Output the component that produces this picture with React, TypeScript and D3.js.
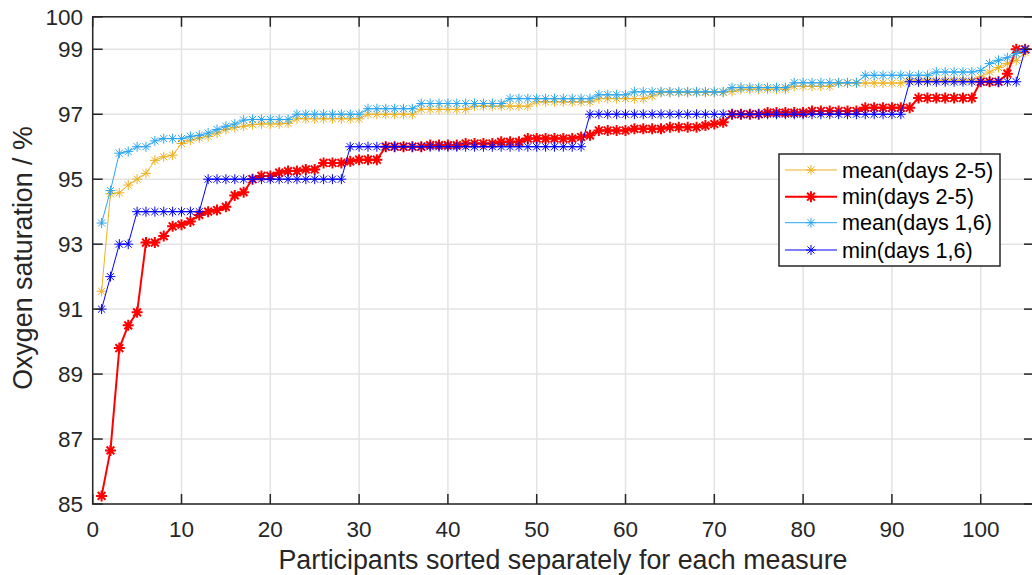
import React from 'react';
import * as d3 from 'd3';

// Sorted ranks 1..105 (x positions are the participant rank)
const meanDays25: number[] = [
  91.55, 94.55, 94.58, 94.82, 95.0, 95.18, 95.58, 95.69, 95.74, 96.1,
  96.2, 96.27, 96.32, 96.42, 96.53, 96.59, 96.63, 96.68, 96.7, 96.7,
  96.7, 96.72, 96.86, 96.86, 96.86, 96.86, 96.86, 96.86, 96.86, 96.86,
  97.0, 97.0, 97.0, 97.0, 97.0, 97.0, 97.15, 97.15, 97.15, 97.15,
  97.15, 97.15, 97.25, 97.25, 97.25, 97.25, 97.25, 97.25, 97.25, 97.38,
  97.38, 97.38, 97.38, 97.38, 97.38, 97.38, 97.48, 97.48, 97.48, 97.48,
  97.48, 97.48, 97.56, 97.67, 97.67, 97.67, 97.67, 97.67, 97.67, 97.67,
  97.67, 97.7, 97.77, 97.77, 97.77, 97.77, 97.77, 97.77, 97.86, 97.86,
  97.86, 97.86, 97.86, 97.96, 97.96, 97.96, 97.96, 97.96, 97.96, 97.96,
  97.96, 98.05, 98.05, 98.05, 98.05, 98.05, 98.05, 98.05, 98.05, 98.15,
  98.3, 98.44, 98.56, 98.66, 98.9,
];

const minDays25: number[] = [
  85.25, 86.65, 89.8, 90.5, 90.9, 93.05, 93.05, 93.25, 93.55, 93.6,
  93.7, 93.9, 94.0, 94.05, 94.15, 94.5, 94.6, 95.0, 95.1, 95.1,
  95.2, 95.25, 95.25, 95.3, 95.3, 95.5, 95.5, 95.5, 95.55, 95.6,
  95.6, 95.6, 96.0, 96.0, 96.0, 96.0, 96.0, 96.05, 96.05, 96.05,
  96.05, 96.1, 96.1, 96.1, 96.1, 96.15, 96.15, 96.15, 96.25, 96.25,
  96.25, 96.25, 96.25, 96.25, 96.3, 96.35, 96.5, 96.5, 96.5, 96.5,
  96.55, 96.55, 96.55, 96.55, 96.6, 96.6, 96.6, 96.6, 96.65, 96.7,
  96.75, 97.0, 97.0, 97.0, 97.0, 97.05, 97.05, 97.05, 97.05, 97.05,
  97.1, 97.1, 97.1, 97.1, 97.1, 97.1, 97.2, 97.2, 97.2, 97.2,
  97.2, 97.2, 97.5, 97.5, 97.5, 97.5, 97.5, 97.5, 97.5, 98.0,
  98.0, 98.0, 98.25, 99.0, 99.0,
];

const meanDays16: number[] = [
  93.65, 94.65, 95.8, 95.85, 96.0, 96.0, 96.18, 96.25, 96.25, 96.25,
  96.32, 96.35, 96.42, 96.53, 96.63, 96.7, 96.82, 96.84, 96.84, 96.84,
  96.84, 96.84, 97.0, 97.0, 97.0, 97.0, 97.0, 97.0, 97.0, 97.0,
  97.17, 97.17, 97.17, 97.17, 97.17, 97.17, 97.33, 97.33, 97.33, 97.33,
  97.33, 97.33, 97.33, 97.33, 97.33, 97.33, 97.48, 97.48, 97.48, 97.48,
  97.48, 97.48, 97.48, 97.48, 97.48, 97.48, 97.6, 97.6, 97.6, 97.6,
  97.69, 97.69, 97.69, 97.69, 97.69, 97.69, 97.69, 97.69, 97.69, 97.69,
  97.69, 97.82, 97.82, 97.82, 97.82, 97.82, 97.82, 97.82, 97.97, 97.97,
  97.97, 97.97, 97.97, 97.97, 97.97, 97.97, 98.2, 98.2, 98.2, 98.2,
  98.2, 98.2, 98.2, 98.2, 98.3, 98.3, 98.3, 98.3, 98.3, 98.35,
  98.56, 98.66, 98.74, 98.87, 99.0,
];

const minDays16: number[] = [
  91, 92, 93, 93, 94, 94, 94, 94, 94, 94,
  94, 94, 95, 95, 95, 95, 95, 95, 95, 95,
  95, 95, 95, 95, 95, 95, 95, 95, 96, 96,
  96, 96, 96, 96, 96, 96, 96, 96, 96, 96,
  96, 96, 96, 96, 96, 96, 96, 96, 96, 96,
  96, 96, 96, 96, 96, 97, 97, 97, 97, 97,
  97, 97, 97, 97, 97, 97, 97, 97, 97, 97,
  97, 97, 97, 97, 97, 97, 97, 97, 97, 97,
  97, 97, 97, 97, 97, 97, 97, 97, 97, 97,
  97, 98, 98, 98, 98, 98, 98, 98, 98, 98,
  98, 98, 98, 98, 99,
];

const seriesNames = ['mean(days 2-5)', 'min(days 2-5)', 'mean(days 1,6)', 'min(days 1,6)'];
const seriesColors = ['#EDB120', '#FF0000', '#2AA6F2', '#0000FF'];
const seriesWidths = [1, 2, 1, 1];
const markerSizes = [5, 5.5, 5, 5];

const xTicks = [0, 10, 20, 30, 40, 50, 60, 70, 80, 90, 100];
const yTicks = [85, 87, 89, 91, 93, 95, 97, 99, 100];

const xLabel = 'Participants sorted separately for each measure';
const yLabel = 'Oxygen saturation / %';

const W = 1032;
const H = 575;
const left = 92.7;
const top = 16.8;
const bottom = 504;
const right = 1034;

const FONT = 'Liberation Sans, Arial, Helvetica, sans-serif';

function asterisk(r: number) {
  const d = r * 0.7071;
  return `M${-r},0H${r}M0,${-r}V${r}M${-d},${-d}L${d},${d}M${-d},${d}L${d},${-d}`;
}

export default function App() {
  const x = d3.scaleLinear().domain([0, 106]).range([left, right]);
  const y = d3.scaleLinear().domain([85, 100]).range([bottom, top]);
  const allSeries = [meanDays25, minDays25, meanDays16, minDays16];
  const line = d3
    .line<number>()
    .x((_, i) => x(i + 1))
    .y((v) => y(v));

  const gridColor = '#e3e3e3';
  const axisColor = '#262626';
  const tickLen = 10;

  const legendX = 779;
  const legendY = 154;
  const legendW = 221;
  const legendH = 112;
  const rowY = [170, 196.7, 222.7, 250];

  return (
    <div style={{ position: 'absolute', left: 0, top: 0 }}>
      <svg width={W} height={H} style={{ display: 'block', background: '#fff' }}>
        <defs>
          <clipPath id="plotclip">
            <rect x={left} y={top - 8} width={right - left + 8} height={bottom - top + 16} />
          </clipPath>
        </defs>
        {xTicks.map((t) => (
          <line key={'gx' + t} x1={x(t)} x2={x(t)} y1={top} y2={bottom} stroke={gridColor} strokeWidth={1.5} />
        ))}
        {yTicks.map((t) => (
          <line key={'gy' + t} x1={left} x2={right} y1={y(t)} y2={y(t)} stroke={gridColor} strokeWidth={1.5} />
        ))}
        <g clipPath="url(#plotclip)">
          {allSeries.map((s, k) => (
            <g key={'s' + k}>
              <path d={line(s) || ''} fill="none" stroke={seriesColors[k]} strokeWidth={seriesWidths[k]} />
              {s.map((v, i) => (
                <path
                  key={i}
                  d={asterisk(markerSizes[k])}
                  transform={`translate(${x(i + 1)},${y(v)})`}
                  fill="none"
                  stroke={seriesColors[k]}
                  strokeWidth={seriesWidths[k]}
                />
              ))}
            </g>
          ))}
        </g>
        <rect x={left} y={top} width={right - left} height={bottom - top} fill="none" stroke={axisColor} strokeWidth={1.5} />
        {xTicks.map((t) => (
          <g key={'tx' + t}>
            <line x1={x(t)} x2={x(t)} y1={bottom} y2={bottom - tickLen} stroke={axisColor} strokeWidth={1.5} />
            <line x1={x(t)} x2={x(t)} y1={top} y2={top + tickLen} stroke={axisColor} strokeWidth={1.5} />
            <text x={x(t)} y={537} textAnchor="middle" fontFamily={FONT} fontSize={22.5} fill={axisColor}>
              {t}
            </text>
          </g>
        ))}
        {yTicks.map((t) => (
          <g key={'ty' + t}>
            <line x1={left} x2={left + tickLen} y1={y(t)} y2={y(t)} stroke={axisColor} strokeWidth={1.5} />
            <line x1={right} x2={right - tickLen} y1={y(t)} y2={y(t)} stroke={axisColor} strokeWidth={1.5} />
            <text x={83} y={y(t)} dy="0.36em" textAnchor="end" fontFamily={FONT} fontSize={22.5} fill={axisColor}>
              {t}
            </text>
          </g>
        ))}
        <text x={563} y={569} textAnchor="middle" fontFamily={FONT} fontSize={26.8} fill={axisColor}>
          {xLabel}
        </text>
        <text
          transform={`translate(32,258) rotate(-90)`}
          textAnchor="middle"
          fontFamily={FONT}
          fontSize={26.8}
          fill={axisColor}
        >
          {yLabel}
        </text>
        <rect x={legendX} y={legendY} width={legendW} height={legendH} fill="#fff" stroke={axisColor} strokeWidth={1.5} />
        {seriesNames.map((n, k) => (
          <g key={'lg' + k}>
            <line x1={785} x2={837} y1={rowY[k]} y2={rowY[k]} stroke={seriesColors[k]} strokeWidth={seriesWidths[k]} />
            <path d={asterisk(markerSizes[k])} transform={`translate(811,${rowY[k]})`} fill="none" stroke={seriesColors[k]} strokeWidth={seriesWidths[k]} />
            <text x={842} y={rowY[k]} dy="0.36em" fontFamily={FONT} fontSize={21.6} fill="#000">
              {n}
            </text>
          </g>
        ))}
      </svg>
    </div>
  );
}
